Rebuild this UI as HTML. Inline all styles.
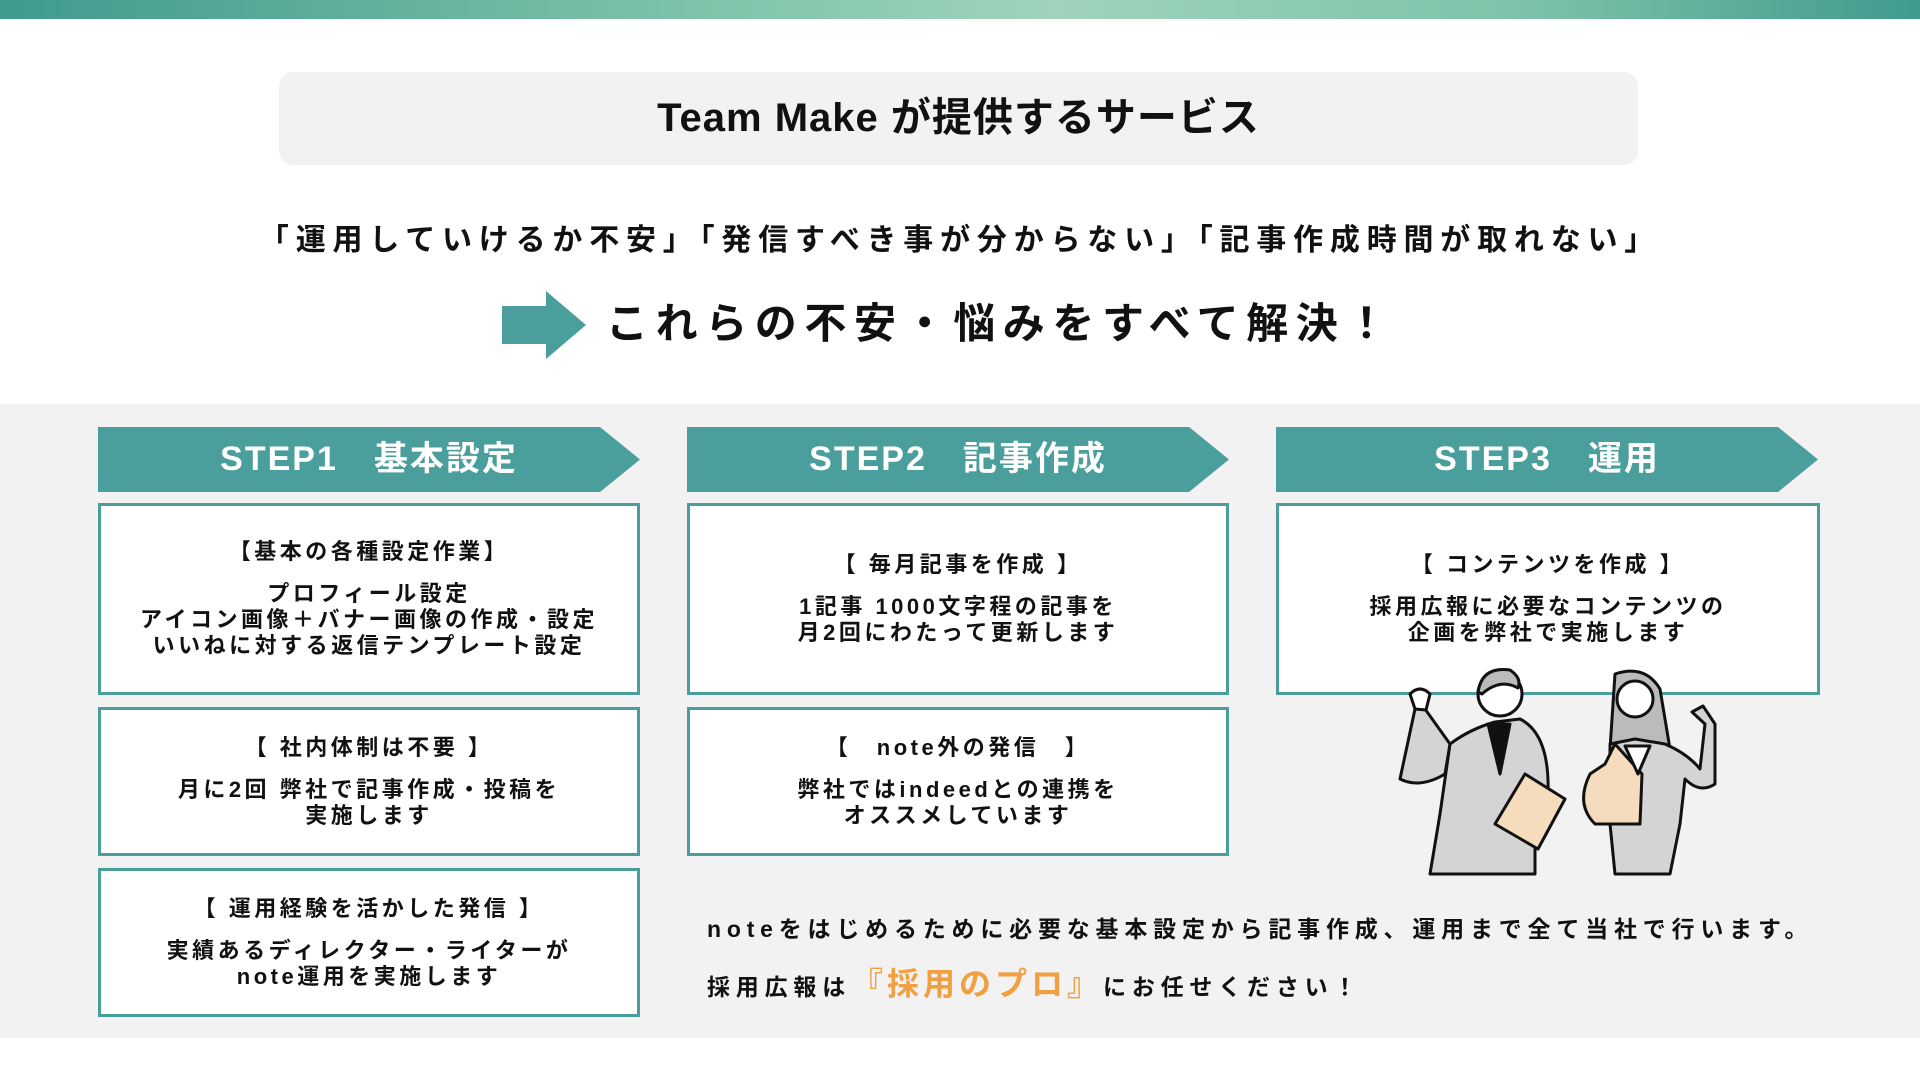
<!DOCTYPE html>
<html><head><meta charset="utf-8"><style>
*{margin:0;padding:0;box-sizing:border-box}
body{width:1920px;height:1080px;position:relative;background:#fff;font-family:"Liberation Sans","Noto Sans CJK JP",sans-serif;font-weight:bold;color:#111;overflow:hidden}
.a{position:absolute}
.top{left:0;top:0;width:1920px;height:19px;background:linear-gradient(90deg,#3f9a8e,#7cc2a8 35%,#9fd3bd 55%,#7cc2a8 80%,#3f9a8e)}
.title{left:279px;top:72px;width:1359px;height:93px;background:#f2f2f2;border-radius:14px;text-align:center;line-height:93px;font-size:40px;letter-spacing:1px}
.gray{left:0;top:404px;width:1920px;height:634px;background:#f2f2f2}
.step{height:65px;color:#fff;font-size:34px;letter-spacing:2px;line-height:65px;text-align:center}
.step svg{position:absolute;left:0;top:0}
.step span{position:relative}
.box{background:#fff;border:3px solid #4a9e9b;display:flex;flex-direction:column;justify-content:center;align-items:center;text-align:center;font-size:22px;line-height:26px;letter-spacing:3.5px}
.box .h{margin-bottom:16px}
</style></head><body>
<div class="a top"></div>
<div class="a title">Team Make が提供するサービス</div>
<div class="a" style="left:200px;top:220px;width:1520px;text-align:center;font-size:30px;letter-spacing:6.8px;line-height:42px">「運用していけるか不安」「発信すべき事が分からない」「記事作成時間が取れない」</div>
<svg class="a" style="left:502px;top:291px" width="84" height="68"><polygon points="0,15 44,15 44,0 84,34 44,68 44,53 0,53" fill="#4a9e9b"/></svg>
<div class="a" style="left:606px;top:296px;font-size:42px;letter-spacing:7.6px;line-height:56px">これらの不安・悩みをすべて解決！</div>
<div class="a gray"></div>

<div class="a step" style="left:98px;top:427px;width:542px"><svg width="542" height="65"><polygon points="0,0 502,0 542,32.5 502,65 0,65" fill="#4a9e9b"/></svg><span>STEP1　基本設定</span></div>
<div class="a step" style="left:687px;top:427px;width:542px"><svg width="542" height="65"><polygon points="0,0 502,0 542,32.5 502,65 0,65" fill="#4a9e9b"/></svg><span>STEP2　記事作成</span></div>
<div class="a step" style="left:1276px;top:427px;width:542px"><svg width="542" height="65"><polygon points="0,0 502,0 542,32.5 502,65 0,65" fill="#4a9e9b"/></svg><span>STEP3　運用</span></div>

<div class="a box" style="left:98px;top:503px;width:542px;height:192px"><div class="h">【基本の各種設定作業】</div><div>プロフィール設定<br>アイコン画像＋バナー画像の作成・設定<br>いいねに対する返信テンプレート設定</div></div>
<div class="a box" style="left:98px;top:707px;width:542px;height:149px"><div class="h">【 社内体制は不要 】</div><div>月に2回 弊社で記事作成・投稿を<br>実施します</div></div>
<div class="a box" style="left:98px;top:868px;width:542px;height:149px"><div class="h">【 運用経験を活かした発信 】</div><div>実績あるディレクター・ライターが<br>note運用を実施します</div></div>

<div class="a box" style="left:687px;top:503px;width:542px;height:192px"><div class="h">【 毎月記事を作成 】</div><div>1記事 1000文字程の記事を<br>月2回にわたって更新します</div></div>
<div class="a box" style="left:687px;top:707px;width:542px;height:149px"><div class="h">【　note外の発信　】</div><div>弊社ではindeedとの連携を<br>オススメしています</div></div>

<div class="a box" style="left:1276px;top:503px;width:544px;height:192px"><div class="h">【 コンテンツを作成 】</div><div>採用広報に必要なコンテンツの<br>企画を弊社で実施します</div></div>

<svg class="a" style="left:1370px;top:664px" width="350" height="215" viewBox="0 0 350 215" fill="none" stroke="#111" stroke-width="3" stroke-linejoin="round">
<path d="M45,45 L30,115 Q50,125 75,110 L80,80 L55,45 Z" fill="#d4d4d4"/>
<path d="M80,80 Q100,65 125,58 L150,55 Q180,70 178,130 L165,170 L165,210 L60,210 L70,150 Z" fill="#d4d4d4"/>
<path d="M118,60 L130,110 L140,60 Z" fill="#111"/>
<circle cx="130" cy="30" r="22" fill="#fff"/>
<path d="M108,28 Q112,2 140,6 Q152,14 148,24 Q130,14 112,30Z" fill="#bbb"/>
<path d="M45,45 L40,30 Q50,20 60,30 L56,46Z" fill="#fff"/>
<path d="M125,160 L155,110 L195,135 L168,185 Z" fill="#f4dcbc"/>
<path d="M245,10 Q275,0 290,25 L300,85 L240,85 Z" fill="#bbb"/>
<circle cx="265" cy="35" r="18" fill="#fff"/>
<path d="M240,80 L265,75 L295,80 Q318,90 330,105 L335,60 L322,48 L333,42 L345,60 L345,120 Q330,130 315,115 L310,160 L300,210 L245,210 L240,160 Z" fill="#d4d4d4"/>
<path d="M245,80 L235,100 L220,110 Q205,140 225,160 L270,160 L272,110 Z" fill="#f4dcbc"/>
<path d="M255,82 L268,110 L280,82Z" fill="#fff"/>
</svg>

<div class="a" style="left:707px;top:912px;font-size:23px;letter-spacing:5.8px;line-height:34px;white-space:nowrap">noteをはじめるために必要な基本設定から記事作成、運用まで全て当社で行います。</div>
<div class="a" style="left:707px;top:962px;font-size:23px;letter-spacing:5.8px;line-height:44px;white-space:nowrap">採用広報は<span style="color:#f0a040;font-size:32px;letter-spacing:4px">『採用のプロ』</span>にお任せください！</div>
</body></html>
